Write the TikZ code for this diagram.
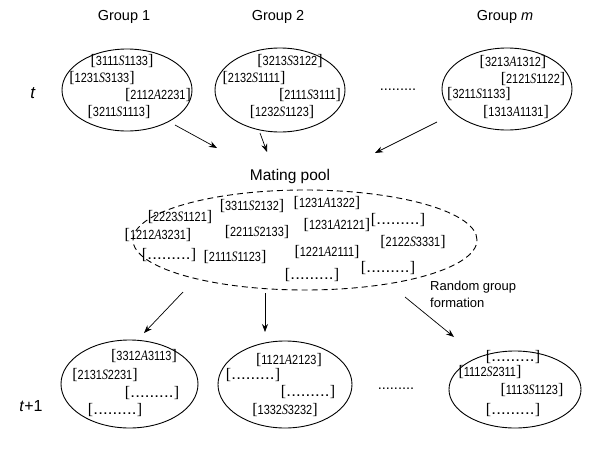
\documentclass[tikz,border=0pt]{standalone}
\usepackage{fontspec}
\usepackage{graphicx}
\setmainfont{Liberation Sans}
\newfontfamily\serifft{Liberation Serif}
\usetikzlibrary{shapes.geometric,arrows.meta}
\newcommand{\brk}[1]{{\serifft\fontsize{16}{16}\selectfont #1}}
\newcommand{\sq}[3]{\brk{[}\scalebox{0.95}[1.15]{#1{\serifft\itshape\fontsize{12.5}{12}\selectfont #2}#3}\brk{]}}
\newcommand{\dd}{.\kern1.6pt}
\newcommand{\dq}{\brk{[}\kern1pt{\bfseries\dd\dd\dd\dd\dd\dd\dd\dd.}\kern1pt\brk{]}}
\tikzset{
  grp/.style={draw, ellipse, line width=0.9pt, inner sep=0pt},
  seq/.style={inner sep=0pt, font=\fontsize{11.5}{11}\selectfont},
  lbl/.style={inner sep=0pt, font=\fontsize{14.5}{16}\selectfont},
  arr/.style={-{Stealth[length=8pt,width=6pt]}, line width=0.7pt}
}
\begin{document}
\begin{tikzpicture}[x=1pt,y=-1pt]
\useasboundingbox (0,0) rectangle (600,450);
% labels
\node[lbl] (g1) at (124,17) {Group 1};
\node[lbl] (g2) at (278,17) {Group 2};
\node[lbl] (gm) at (505,17) {Group \textit{m}};
\node[lbl,font=\fontsize{17}{18}\selectfont] (t0) at (33,93) {\textit{t}};
\node[lbl,font=\fontsize{16}{18}\selectfont] (t1) at (31,406) {\textit{t}+1};
\node[lbl,font=\fontsize{15.5}{16}\selectfont] (mp) at (290,176) {Mating pool};
\node[lbl,align=left,anchor=north west,font=\fontsize{13}{17}\selectfont] (rg) at (430,281) {Random group\\formation};
\node[lbl] (dt) at (398,90) {.........};
\node[lbl] (db) at (396,389) {.........};
% top ellipses
\node[grp,minimum width=130pt,minimum height=82pt] (e1) at (127,90) {};
\node[grp,minimum width=130pt,minimum height=84pt] (e2) at (280,90) {};
\node[grp,minimum width=130pt,minimum height=82pt] (e3) at (507,89) {};
\node[seq] (a1) at (122,61) {\sq{3111}{S}{1133}};
\node[seq] (a2) at (102,78) {\sq{1231}{S}{3133}};
\node[seq] (a3) at (158,95) {\sq{2112}{A}{2231}};
\node[seq] (a4) at (119,112) {\sq{3211}{S}{1113}};
\node[seq] (b1) at (290,61) {\sq{3213}{S}{3122}};
\node[seq] (b2) at (254,78) {\sq{2132}{S}{1111}};
\node[seq] (b3) at (310,95) {\sq{2111}{S}{3111}};
\node[seq] (b4) at (282,112) {\sq{1232}{S}{1123}};
\node[seq] (c1) at (513,62) {\sq{3213}{A}{1312}};
\node[seq] (c2) at (533,79) {\sq{2121}{S}{1122}};
\node[seq] (c3) at (479,94) {\sq{3211}{S}{1133}};
\node[seq] (c4) at (516,112) {\sq{1313}{A}{1131}};
% pool
\node[grp,dashed,dash pattern=on 6pt off 4pt,minimum width=344pt,minimum height=100pt] (pool) at (305,240) {};
\node[seq] (p1) at (180,217) {\sq{2223}{S}{1121}};
\node[seq] (p2) at (252,206) {\sq{3311}{S}{2132}};
\node[seq] (p3) at (327,203) {\sq{1231}{A}{1322}};
\node[seq] (p4) at (337,225) {\sq{1231}{A}{2121}};
\node[seq] (p5) at (398,220) {\dq};
\node[seq] (p6) at (158,235) {\sq{1212}{A}{3231}};
\node[seq] (p7) at (257,232) {\sq{2211}{S}{2133}};
\node[seq] (p8) at (413,242) {\sq{2122}{S}{3331}};
\node[seq] (p9) at (169,255) {\dq};
\node[seq] (p10) at (235,257) {\sq{2111}{S}{1123}};
\node[seq] (p11) at (327,252) {\sq{1221}{A}{2111}};
\node[seq] (p12) at (312,275) {\dq};
\node[seq] (p13) at (388,268) {\dq};
% bottom ellipses
\node[grp,minimum width=137pt,minimum height=88pt] (f1) at (129.5,384) {};
\node[grp,minimum width=134pt,minimum height=87pt] (f2) at (285,384.5) {};
\node[grp,minimum width=132pt,minimum height=77pt] (f3) at (515,389.5) {};
\node[seq] (q1) at (144,356) {\sq{3312}{A}{3113}};
\node[seq] (q2) at (105,375) {\sq{2131}{S}{2231}};
\node[seq] (q3) at (152,393) {\dq};
\node[seq] (q4) at (115,410) {\dq};
\node[seq] (r1) at (289,360) {\sq{1121}{A}{2123}};
\node[seq] (r2) at (253,375) {\dq};
\node[seq] (r3) at (308,392) {\dq};
\node[seq] (r4) at (285,410) {\sq{1332}{S}{3232}};
\node[seq] (s1) at (513,357) {\dq};
\node[seq] (s2) at (490,372) {\sq{1112}{S}{2311}};
\node[seq] (s3) at (532,390) {\sq{1113}{S}{1123}};
\node[seq] (s4) at (513,410) {\dq};
% arrows
\coordinate (u1s) at (175,125); \coordinate (u1e) at (217,148);
\coordinate (u2s) at (260,133); \coordinate (u2e) at (267,152);
\coordinate (u3s) at (437,122); \coordinate (u3e) at (375,153);
\coordinate (d1s) at (183,292); \coordinate (d1e) at (144,333);
\coordinate (d2s) at (265,293); \coordinate (d2e) at (265,332);
\coordinate (d3s) at (405,297); \coordinate (d3e) at (454,337);
\draw[arr] (u1s) -- (u1e);
\draw[arr] (u2s) -- (u2e);
\draw[arr] (u3s) -- (u3e);
\draw[arr] (d1s) -- (d1e);
\draw[arr] (d2s) -- (d2e);
\draw[arr] (d3s) -- (d3e);
\end{tikzpicture}
\end{document}
